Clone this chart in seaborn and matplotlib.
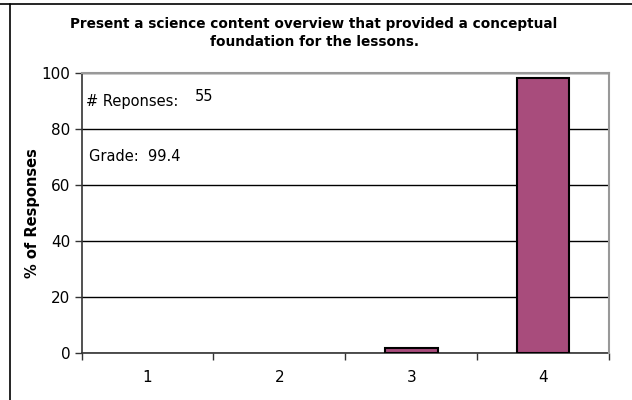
import numpy as np
import pandas as pd
import matplotlib
matplotlib.use("Agg")
import matplotlib.pyplot as plt
from matplotlib.lines import Line2D
import seaborn as sns

# data
categories = ["1", "2", "3", "4"]
pct_responses = [0.0, 0.0, 1.8, 98.2]
n_responses = 55
grade = 99.4
title = "Present a science content overview that provided a conceptual\nfoundation for the lessons."

df = pd.DataFrame({"Rating": categories, "Pct": pct_responses})

sns.set_style("white")
plt.rcParams["font.family"] = ["DejaVu Sans"]
plt.rcParams["text.color"] = "black"
plt.rcParams["axes.labelcolor"] = "black"
plt.rcParams["xtick.color"] = "black"
plt.rcParams["ytick.color"] = "black"

fig = plt.figure(figsize=(6.32, 4.0), dpi=100)
ax = fig.add_axes([0.129, 0.1168, 0.8346, 0.7014])

sns.barplot(data=df, x="Rating", y="Pct", order=categories, color="#A84C7C",
            saturation=1, width=0.4, edgecolor="black", linewidth=1.5, ax=ax, zorder=3)

# empty categories show no outline
for patch in ax.patches:
    if patch.get_height() == 0:
        patch.set_linewidth(0)

ax.set_xlim(-0.5, len(categories) - 0.5)
ax.set_ylim(0, 100)
ax.set_yticks(np.arange(0, 101, 20))
ax.tick_params(axis="y", direction="out", length=5, width=1, labelsize=11, pad=3, left=True,
               color="#333333")
ax.tick_params(axis="x", which="major", length=0, labelsize=11, pad=12)
ax.set_xticks(np.arange(-0.5, len(categories), 1.0), minor=True)
ax.tick_params(axis="x", which="minor", direction="out", length=5, width=1, bottom=True,
               color="#333333")

# gridlines
ax.yaxis.grid(True, color="black", linewidth=1, zorder=0)
ax.set_axisbelow(True)

for side in ["top", "right"]:
    ax.spines[side].set_color("#999999")
    ax.spines[side].set_linewidth(1.5)
    ax.spines[side].set_zorder(5)
for side in ["left", "bottom"]:
    ax.spines[side].set_color("#333333")
    ax.spines[side].set_linewidth(1.2)

ax.set_xlabel("")
ax.set_ylabel("% of Responses", fontsize=10.5, fontweight="bold")
ax.yaxis.set_label_coords(-0.078, 0.5)

# annotations
ax.text(0.008, 0.899, "# Reponses:", transform=ax.transAxes, fontsize=10.5, va="center", ha="left")
ax.text(0.215, 0.915, str(n_responses), transform=ax.transAxes, fontsize=10.5, va="center", ha="left")
ax.text(0.0144, 0.70, f"Grade:  {grade}", transform=ax.transAxes, fontsize=10.5, va="center", ha="left")

fig.text(0.497, 1 - 33 / 400, title, ha="center", va="center", fontsize=9.8,
         fontweight="bold", linespacing=1.4)

# outer frame (top and left)
fig.add_artist(Line2D([0, 1], [1 - 4 / 400, 1 - 4 / 400], color="black", linewidth=1.2))
fig.add_artist(Line2D([10 / 632, 10 / 632], [0, 1 - 4 / 400], color="black", linewidth=1.2))

fig.savefig("out.png", dpi=100, facecolor="white")
